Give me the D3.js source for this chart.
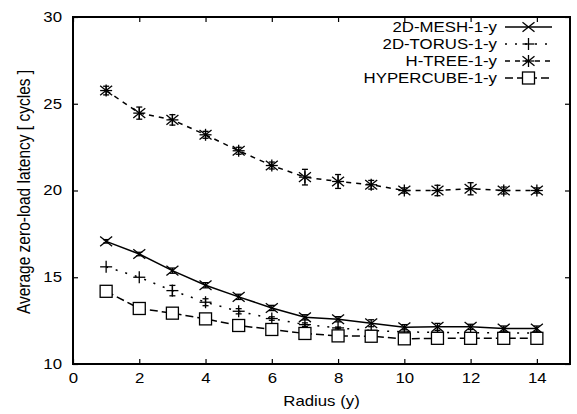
<!DOCTYPE html>
<html>
<head>
<meta charset="utf-8">
<script src="https://cdn.jsdelivr.net/npm/d3@7"></script>
<style>
  body { margin: 0; background: #fff; }
  svg { display: block; font-family: "Liberation Sans", Arial, sans-serif; }
</style>
</head>
<body>
<div id="chart"></div>
<script>
var radius = [1, 2, 3, 4, 5, 6, 7, 8, 9, 10, 11, 12, 13, 14];
var seriesNames = ["2D-MESH-1-y", "2D-TORUS-1-y", "H-TREE-1-y", "HYPERCUBE-1-y"];
var meshValues = [17.07, 16.34, 15.38, 14.54, 13.87, 13.23, 12.69, 12.58, 12.35, 12.12, 12.14, 12.14, 12.04, 12.04];
var torusValues = [15.6, 15.0, 14.23, 13.56, 13.04, 12.62, 12.27, 12.08, 11.93, 11.85, 11.82, 11.8, 11.8, 11.78];
var htreeValues = [25.76, 24.46, 24.07, 23.21, 22.29, 21.44, 20.77, 20.52, 20.33, 20.0, 20.0, 20.1, 20.0, 20.0];
var hypercubeValues = [14.19, 13.2, 12.93, 12.6, 12.22, 11.99, 11.76, 11.62, 11.6, 11.45, 11.48, 11.48, 11.48, 11.48];
// error bar half-widths
var meshErr = [0.1, 0.1, 0.15, 0.15, 0.15, 0.15, 0.15, 0.15, 0.2, 0.15, 0.2, 0.15, 0.15, 0.15];
var torusErr = [0, 0, 0.3, 0.2, 0.15, 0.1, 0.1, 0.05, 0, 0, 0, 0, 0, 0];
var htreeErr = [0.25, 0.35, 0.3, 0.2, 0.2, 0.2, 0.45, 0.4, 0.25, 0.15, 0.3, 0.35, 0.2, 0.15];
var hypercubeErr = [0, 0, 0, 0, 0, 0, 0, 0, 0, 0, 0, 0, 0, 0];
var xTicks = [0, 2, 4, 6, 8, 10, 12, 14];
var yTicks = [10, 15, 20, 25, 30];

var W = 577, H = 414;
var margin = {top: 17, right: 7, bottom: 50, left: 73};
var width = W - margin.left - margin.right;
var height = H - margin.top - margin.bottom;
var stretch = 1.2; // text in the original is drawn a bit wide

var svg = d3.select("#chart").append("svg")
    .attr("width", W).attr("height", H);
var g = svg.append("g")
    .attr("transform", "translate(" + margin.left + "," + margin.top + ")");

var x = d3.scaleLinear().domain([0, 15]).range([0, width]);
var y = d3.scaleLinear().domain([10, 30]).range([height, 0]);

// inward ticks on all four sides
var xAxisG = g.append("g").attr("class", "axis")
    .attr("transform", "translate(0," + height + ")")
    .call(d3.axisBottom(x).tickValues(xTicks).tickSizeInner(-5).tickSizeOuter(0).tickPadding(9));
g.append("g").attr("class", "axis")
    .call(d3.axisTop(x).tickValues(xTicks).tickSizeInner(-5).tickSizeOuter(0).tickFormat(""));
var yAxisG = g.append("g").attr("class", "axis")
    .call(d3.axisLeft(y).tickValues(yTicks).tickSizeInner(-5).tickSizeOuter(0).tickPadding(11));
g.append("g").attr("class", "axis")
    .attr("transform", "translate(" + width + ",0)")
    .call(d3.axisRight(y).tickValues(yTicks).tickSizeInner(-5).tickSizeOuter(0).tickFormat(""));

g.selectAll(".axis path").remove();
g.selectAll(".axis line").attr("stroke", "#000").attr("stroke-width", 1.2);
g.selectAll(".axis text").attr("fill", "#000").style("font-size", "14px")
    .style("font-family", "'Liberation Sans', Arial, sans-serif");
xAxisG.selectAll("text").attr("transform", "scale(" + stretch + ",1)");
yAxisG.selectAll("text").attr("x", 0)
    .attr("transform", "translate(-11,0) scale(" + stretch + ",1)");

g.append("rect")
    .attr("width", width).attr("height", height)
    .attr("fill", "none").attr("stroke", "#000").attr("stroke-width", 2);

var series = [
    {name: seriesNames[0], values: meshValues, err: meshErr, dash: null, marker: "x"},
    {name: seriesNames[1], values: torusValues, err: torusErr, dash: "2,8", marker: "plus"},
    {name: seriesNames[2], values: htreeValues, err: htreeErr, dash: "5,5", marker: "star"},
    {name: seriesNames[3], values: hypercubeValues, err: hypercubeErr, dash: "8,4", marker: "square"}
];

function drawMarker(sel, type, cx, cy) {
    var s = 6;
    var m = sel.append("g").attr("transform", "translate(" + cx + "," + cy + ")")
        .attr("stroke", "#000").attr("stroke-width", 1.3).attr("fill", "none");
    if (type === "x" || type === "star") {
        m.append("line").attr("x1", -s).attr("y1", -s * 0.8).attr("x2", s).attr("y2", s * 0.8);
        m.append("line").attr("x1", -s).attr("y1", s * 0.8).attr("x2", s).attr("y2", -s * 0.8);
    }
    if (type === "plus" || type === "star") {
        m.append("line").attr("x1", -s).attr("y1", 0).attr("x2", s).attr("y2", 0);
        m.append("line").attr("x1", 0).attr("y1", -s).attr("x2", 0).attr("y2", s);
    }
    if (type === "square") {
        m.append("rect").attr("x", -s).attr("y", -s).attr("width", 2 * s).attr("height", 2 * s)
            .attr("fill", "#fff");
    }
}

var line = d3.line()
    .x(function(d) { return x(d.r); })
    .y(function(d) { return y(d.v); });

series.forEach(function(s) {
    var pts = radius.map(function(r, i) { return {r: r, v: s.values[i], e: s.err[i]}; });
    g.append("path")
        .datum(pts)
        .attr("d", line)
        .attr("fill", "none")
        .attr("stroke", "#000")
        .attr("stroke-width", 1.5)
        .attr("stroke-dasharray", s.dash);
    pts.forEach(function(p) {
        if (p.e > 0) {
            var eg = g.append("g").attr("stroke", "#000").attr("stroke-width", 1.3);
            eg.append("line").attr("x1", x(p.r)).attr("x2", x(p.r))
                .attr("y1", y(p.v - p.e)).attr("y2", y(p.v + p.e));
            [p.v - p.e, p.v + p.e].forEach(function(v) {
                eg.append("line").attr("x1", x(p.r) - 3).attr("x2", x(p.r) + 3)
                    .attr("y1", y(v)).attr("y2", y(v));
            });
        }
        drawMarker(g, s.marker, x(p.r), y(p.v));
    });
});

// legend
var legend = svg.append("g");
series.forEach(function(s, i) {
    var ly = 27 + i * 17;
    legend.append("text")
        .attr("transform", "translate(497," + ly + ") scale(" + stretch + ",1)")
        .attr("dy", "0.35em")
        .attr("text-anchor", "end")
        .style("font-size", "14px")
        .text(s.name);
    legend.append("line")
        .attr("x1", 505).attr("x2", 552).attr("y1", ly).attr("y2", ly)
        .attr("stroke", "#000").attr("stroke-width", 1.5)
        .attr("stroke-dasharray", s.dash);
    drawMarker(legend, s.marker, 528.5, ly);
});

svg.append("text")
    .attr("transform", "translate(" + (margin.left + x(7.5)) + ",406) scale(" + stretch + ",1)")
    .attr("text-anchor", "middle")
    .style("font-size", "14px")
    .text("Radius (y)");

svg.append("text")
    .attr("transform", "translate(30,192) scale(" + stretch + ",1) rotate(-90)")
    .attr("text-anchor", "middle")
    .style("font-size", "15.5px")
    .text("Average zero-load latency [ cycles ]");
</script>
</body>
</html>
